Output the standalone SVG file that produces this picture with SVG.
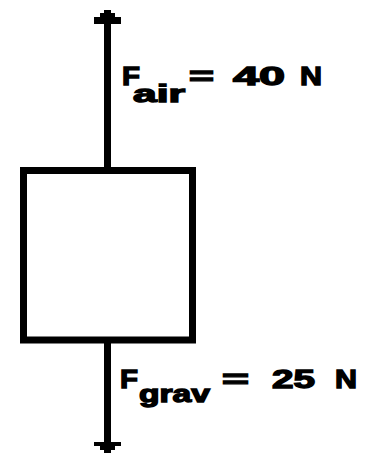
<svg xmlns="http://www.w3.org/2000/svg" width="366" height="453" viewBox="0 0 366 453">
<style>
.t{font-family:"Liberation Sans",Arial,sans-serif;font-weight:bold;font-size:25px;fill:#000;stroke:#000;stroke-width:1.3}
.s{font-family:"Liberation Sans",Arial,sans-serif;font-weight:bold;font-size:23px;fill:#000;stroke:#000;stroke-width:1.3}
</style>
<rect width="366" height="453" fill="#fff"/>
<g id="connectors" fill="#000">
<rect x="104" y="14" width="7" height="153"/>
<polygon points="104,10 111,10 111,13 115,13 115,17 121,17 121,24 94,24 94,17 100,17 100,13 104,13"/>
<rect x="104" y="343" width="7" height="100"/>
<polygon points="94,442 121,442 121,446 115,446 115,450 111,450 111,453 104,453 104,450 100,450 100,446 94,446"/>
</g>
<g id="box">
<rect x="23.5" y="170.5" width="169" height="169.5" fill="none" stroke="#000" stroke-width="7"/>
</g>
<g id="label-air">
<text class="t" x="122" y="85" textLength="18" lengthAdjust="spacingAndGlyphs">F</text>
<text class="s" x="133" y="102" textLength="52" lengthAdjust="spacingAndGlyphs">air</text>
<text class="t" x="189" y="85" textLength="25" lengthAdjust="spacingAndGlyphs">=</text>
<text class="t" x="233" y="85" textLength="52" lengthAdjust="spacingAndGlyphs">40</text>
<text class="t" x="300" y="85" textLength="22" lengthAdjust="spacingAndGlyphs">N</text>
</g>
<g id="label-grav">
<text class="t" x="120" y="388" textLength="18" lengthAdjust="spacingAndGlyphs">F</text>
<text class="s" x="139" y="402" textLength="71" lengthAdjust="spacingAndGlyphs">grav</text>
<text class="t" x="222" y="388" textLength="27" lengthAdjust="spacingAndGlyphs">=</text>
<text class="t" x="272" y="388" textLength="43" lengthAdjust="spacingAndGlyphs">25</text>
<text class="t" x="335" y="388" textLength="22" lengthAdjust="spacingAndGlyphs">N</text>
</g>
</svg>
